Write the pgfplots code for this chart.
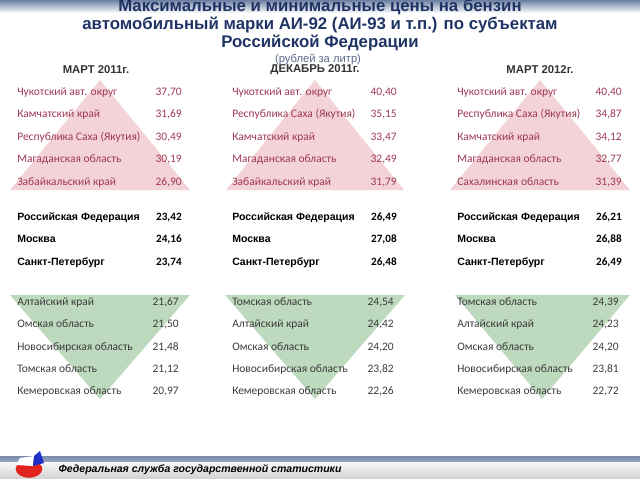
\documentclass[border=0pt]{standalone}
\usepackage{fontspec}
\setmainfont{Carlito}
\newfontfamily\arialf{Liberation Sans}
\usepackage{pgfplots}
\usepackage{pgfplotstable}
\pgfplotsset{compat=1.18}

\definecolor{titleblue}{HTML}{1F3464}
\definecolor{redtxt}{HTML}{9E3852}
\definecolor{pinktri}{HTML}{F3D3D8}
\definecolor{greentri}{HTML}{BDD9BE}
\definecolor{graytxt}{HTML}{3C3C3C}
\definecolor{headtxt}{HTML}{333333}
\definecolor{subtxt}{HTML}{5A6A8C}
\definecolor{barblue}{HTML}{6C80A3}
\definecolor{logored}{HTML}{E0231C}
\definecolor{logoblue}{HTML}{1C2FC8}

\pgfplotstableread[col sep=semicolon]{
name;val;y
Чукотский авт. округ;37.70;92
Камчатский край;31.69;114
Республика Саха (Якутия);30.49;137
Магаданская область;30.19;159
Забайкальский край;26.90;182
Российская Федерация;23.42;217
Москва;24.16;239
Санкт-Петербург;23.74;262
Алтайский край;21.67;302
Омская область;21.50;324
Новосибирская область;21.48;347
Томская область;21.12;369
Кемеровская область;20.97;391
}\tabA

\pgfplotstableread[col sep=semicolon]{
name;val;y
Чукотский авт. округ;40.40;92
Республика Саха (Якутия);35.15;114
Камчатский край;33.47;137
Магаданская область;32.49;159
Забайкальский край;31.79;182
Российская Федерация;26.49;217
Москва;27.08;239
Санкт-Петербург;26.48;262
Томская область;24.54;302
Алтайский край;24.42;324
Омская область;24.20;347
Новосибирская область;23.82;369
Кемеровская область;22.26;391
}\tabB

\pgfplotstableread[col sep=semicolon]{
name;val;y
Чукотский авт. округ;40.40;92
Республика Саха (Якутия);34.87;114
Камчатский край;34.12;137
Магаданская область;32.77;159
Сахалинская область;31.39;182
Российская Федерация;26.21;217
Москва;26.88;239
Санкт-Петербург;26.49;262
Томская область;24.39;302
Алтайский край;24.23;324
Омская область;24.20;347
Новосибирская область;23.81;369
Кемеровская область;22.72;391
}\tabC

\pgfplotsset{
  lab/.style n args={2}{draw=none, mark=none, point meta=explicit symbolic,
    nodes near coords={\pgfplotspointmeta},
    every node near coord/.style={anchor=base west, inner sep=0pt, yshift=-2.8pt, text=#1, font=#2}},
  num/.style n args={2}{draw=none, mark=none, point meta=explicit,
    nodes near coords,
    every node near coord/.style={anchor=base east, inner sep=0pt, yshift=-2.8pt, text=#1, font=#2}},
}

\newcommand\normfont{\fontsize{8.6}{10}\selectfont}
\newcommand\boldfont{\arialf\bfseries\fontsize{7.9}{9}\selectfont}
\newcommand\boldnum{\bfseries\fontsize{8.4}{10}\selectfont}

% #1 table, #2 name x, #3 value x (top/bold), #4 value x (bottom)
\newcommand\periodcol[4]{%
  \addplot[lab={redtxt}{\normfont}, restrict y to domain=80:200] table[x expr=#2, y=y, meta=name]{#1};
  \addplot[num={redtxt}{\normfont}, restrict y to domain=80:200] table[x expr=#3, y=y, meta=val]{#1};
  \addplot[lab={black}{\boldfont}, restrict y to domain=205:270] table[x expr=#2, y=y, meta=name]{#1};
  \addplot[num={black}{\boldnum}, restrict y to domain=205:270] table[x expr=#3, y=y, meta=val]{#1};
  \addplot[lab={graytxt}{\normfont}, restrict y to domain=290:400] table[x expr=#2, y=y, meta=name]{#1};
  \addplot[num={graytxt}{\normfont}, restrict y to domain=290:400] table[x expr=#4, y=y, meta=val]{#1};
}

\begin{document}
\begin{tikzpicture}
\begin{axis}[
  width=480pt, height=360pt, scale only axis,
  xmin=0, xmax=640, ymin=0, ymax=480, y dir=reverse,
  hide axis, clip=false,
  /pgf/number format/.cd, fixed, fixed zerofill, precision=2, use comma, assume math mode=true,
]
% header band
\fill[top color=barblue, bottom color=white] (axis cs:0,0) rectangle (axis cs:640,13);
% footer band
\fill[top color=barblue!90, bottom color=barblue!70] (axis cs:0,456) rectangle (axis cs:640,462);
\fill[top color=gray!5, bottom color=gray!35] (axis cs:0,462) rectangle (axis cs:640,478);

% triangles
\addplot[fill=pinktri, draw=none] coordinates {(10,190) (100,80) (190,190)} -- cycle;
\addplot[fill=pinktri, draw=none] coordinates {(226,190) (315,80) (404,190)} -- cycle;
\addplot[fill=pinktri, draw=none] coordinates {(450,190) (540,80) (630,190)} -- cycle;
\addplot[fill=greentri, draw=none] coordinates {(10,295) (100,399) (190,295)} -- cycle;
\addplot[fill=greentri, draw=none] coordinates {(225,295) (315,399) (405,295)} -- cycle;
\addplot[fill=greentri, draw=none] coordinates {(455,295) (542,399) (630,295)} -- cycle;

% titles
\node[text=titleblue, font=\arialf\bfseries\fontsize{12.6}{14}\selectfont] at (axis cs:320,7) {Максимальные и минимальные цены на бензин};
\node[text=titleblue, font=\arialf\bfseries\fontsize{12.6}{14}\selectfont] at (axis cs:320,25) {автомобильный марки АИ-92 (АИ-93 и т.п.) по субъектам};
\node[text=titleblue, font=\arialf\bfseries\fontsize{12.6}{14}\selectfont] at (axis cs:320,43) {Российской Федерации};
\node[text=subtxt, font=\arialf\fontsize{8.4}{9}\selectfont] at (axis cs:318,59) {(рублей за литр)};
\node[text=headtxt, font=\arialf\bfseries\fontsize{8.5}{10}\selectfont] at (axis cs:96,70) {МАРТ 2011г.};
\node[text=headtxt, font=\arialf\bfseries\fontsize{8.5}{10}\selectfont] at (axis cs:315,70) {ДЕКАБРЬ 2011г.};
\node[text=headtxt, font=\arialf\bfseries\fontsize{8.5}{10}\selectfont] at (axis cs:540,70) {МАРТ 2012г.};

\periodcol{\tabA}{17}{182}{179}
\periodcol{\tabB}{232}{397}{394}
\periodcol{\tabC}{457}{622}{619}

% footer logo and text
\fill[logored] (axis cs:29,469) ellipse [x radius=10pt, y radius=6.5pt];
\fill[white] (axis cs:16,465) -- (axis cs:20,458) -- (axis cs:34,456) -- (axis cs:33,466) -- cycle;
\fill[logoblue] (axis cs:33,466) -- (axis cs:34,456) -- (axis cs:40,451) -- (axis cs:44,463) -- cycle;
\node[anchor=west, text=black, font=\arialf\bfseries\itshape\fontsize{7.9}{9}\selectfont] at (axis cs:54,470) {Федеральная служба государственной статистики};

\path (axis cs:0,0) rectangle (axis cs:640,480);
\end{axis}
\pgfresetboundingbox
\path (0,0) rectangle (480pt,360pt);
\end{tikzpicture}
\end{document}
